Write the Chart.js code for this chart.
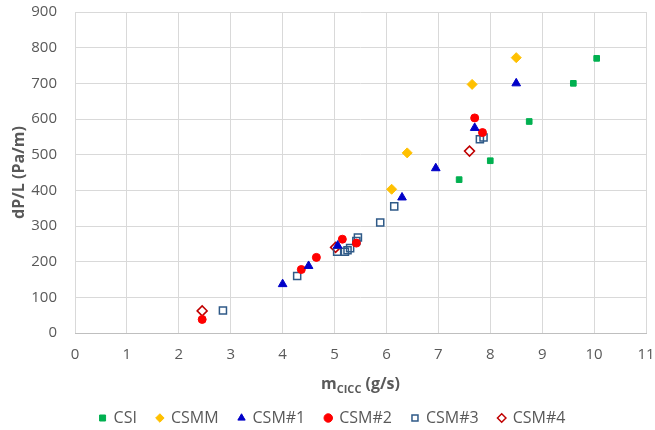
<!DOCTYPE html>
<html>
<head>
<meta charset="utf-8">
<script src="https://cdn.jsdelivr.net/npm/chart.js@4"></script>
<style>
  html, body { margin: 0; padding: 0; background: #fff; }
  #wrap { width: 655px; height: 430px; }
</style>
</head>
<body>
<div id="wrap"><canvas id="dpChart"></canvas></div>
<script>
const xTicks = [0, 1, 2, 3, 4, 5, 6, 7, 8, 9, 10, 11];
const yTicks = [0, 100, 200, 300, 400, 500, 600, 700, 800, 900];

const csiX = [7.4, 8.0, 8.75, 9.6, 10.05];
const csiY = [430, 483, 593, 700, 770];
const csmmX = [6.1, 6.4, 7.65, 8.5];
const csmmY = [403, 505, 697, 772];
const csm1X = [4.0, 4.5, 5.06, 6.3, 6.95, 7.7, 8.5];
const csm1Y = [137, 188, 245, 380, 462, 575, 700];
const csm2X = [2.45, 4.36, 4.65, 5.15, 5.42, 7.7, 7.85];
const csm2Y = [38, 178, 212, 263, 252, 603, 562];
const csm3X = [2.85, 4.28, 5.05, 5.2, 5.25, 5.3, 5.42, 5.45, 5.88, 6.15, 7.8, 7.87];
const csm3Y = [63, 160, 228, 228, 232, 238, 258, 268, 310, 355, 543, 548];
const csm4X = [2.45, 5.02, 7.6];
const csm4Y = [62, 240, 510];

function pts(xs, ys) {
  return xs.map((x, i) => ({ x: x, y: ys[i] }));
}

const ctx = document.getElementById('dpChart').getContext('2d');

// legend keeps wide spacing between items but takes less height
const legendHeight = {
  id: 'legendHeight',
  beforeInit(chart) {
    const fit = chart.legend.fit;
    chart.legend.fit = function () {
      fit.bind(chart.legend)();
      this.height = 40;
    };
  }
};

// x title with subscript drawn by hand
const xTitlePlugin = {
  id: 'xTitle',
  afterDraw(chart) {
    const c = chart.ctx;
    const area = chart.chartArea;
    const mid = (area.left + area.right) / 2;
    const y = 389;
    c.save();
    c.fillStyle = '#595959';
    c.textBaseline = 'alphabetic';
    c.font = 'bold 16px "Open Sans", sans-serif';
    const w1 = c.measureText('m').width;
    c.font = 'bold 11px "Open Sans", sans-serif';
    const w2 = c.measureText('CICC').width;
    c.font = 'bold 16px "Open Sans", sans-serif';
    const w3 = c.measureText(' (g/s)').width;
    let x = mid - (w1 + w2 + w3) / 2;
    c.textAlign = 'left';
    c.fillText('m', x, y);
    x += w1;
    c.font = 'bold 11px "Open Sans", sans-serif';
    c.fillText('CICC', x, y + 4);
    x += w2;
    c.font = 'bold 16px "Open Sans", sans-serif';
    c.fillText(' (g/s)', x, y);
    c.restore();
  }
};

const data = {
  datasets: [
    { label: 'CSI', data: pts(csiX, csiY), pointStyle: 'rect', pointRadius: 4,
      backgroundColor: '#00B050', borderColor: '#00B050', borderWidth: 1 },
    { label: 'CSMM', data: pts(csmmX, csmmY), pointStyle: 'rectRot', pointRadius: 5,
      backgroundColor: '#FFC000', borderColor: '#FFC000', borderWidth: 1 },
    { label: 'CSM#1', data: pts(csm1X, csm1Y), pointStyle: 'triangle', pointRadius: 5,
      backgroundColor: '#0000C8', borderColor: '#0000C8', borderWidth: 1 },
    { label: 'CSM#2', data: pts(csm2X, csm2Y), pointStyle: 'circle', pointRadius: 4,
      backgroundColor: '#FF0000', borderColor: '#FF0000', borderWidth: 1 },
    { label: 'CSM#3', data: pts(csm3X, csm3Y), pointStyle: 'rect', pointRadius: 5,
      backgroundColor: 'rgba(255,255,255,0)', borderColor: '#2F5A88', borderWidth: 1.5 },
    { label: 'CSM#4', data: pts(csm4X, csm4Y), pointStyle: 'rectRot', pointRadius: 5,
      backgroundColor: 'rgba(255,255,255,0)', borderColor: '#C00000', borderWidth: 1.5 }
  ]
};

const config = {
  type: 'scatter',
  data: data,
  options: {
    responsive: true,
    maintainAspectRatio: false,
    animation: false,
    layout: { padding: { left: 10, right: 0, top: 3, bottom: 0 } },
    plugins: {
      legend: {
        position: 'bottom',
        labels: {
          usePointStyle: true,
          boxWidth: 6,
          boxHeight: 6,
          padding: 20,
          color: '#595959',
          font: { family: '"Open Sans", sans-serif', size: 16 }
        }
      },
      tooltip: { enabled: false }
    },
    scales: {
      x: {
        type: 'linear',
        min: xTicks[0],
        max: xTicks[xTicks.length - 1],
        afterBuildTicks: axis => { axis.ticks = xTicks.map(v => ({ value: v })); },
        afterFit: axis => { axis.height = 57; axis.paddingRight = 9; },
        grid: { color: '#D9D9D9', drawTicks: false },
        border: { color: '#BFBFBF' },
        ticks: { color: '#595959', padding: 13, font: { family: '"Open Sans", sans-serif', size: 15 } }
      },
      y: {
        min: yTicks[0],
        max: yTicks[yTicks.length - 1],
        afterBuildTicks: axis => { axis.ticks = yTicks.map(v => ({ value: v })); },
        afterFit: axis => { axis.width = 65; axis.paddingTop = 12; axis.paddingBottom = 0; },
        grid: { color: '#D9D9D9', drawTicks: false },
        border: { display: false },
        ticks: { color: '#595959', padding: 18, font: { family: '"Open Sans", sans-serif', size: 15 } },
        title: { display: true, text: 'dP/L (Pa/m)', color: '#595959', padding: { top: 0, bottom: 2 },
          font: { family: '"Open Sans", sans-serif', size: 16, weight: 'bold' } }
      }
    }
  },
  plugins: [legendHeight, xTitlePlugin]
};

const dpChart = new Chart(ctx, config);
</script>
</body>
</html>
